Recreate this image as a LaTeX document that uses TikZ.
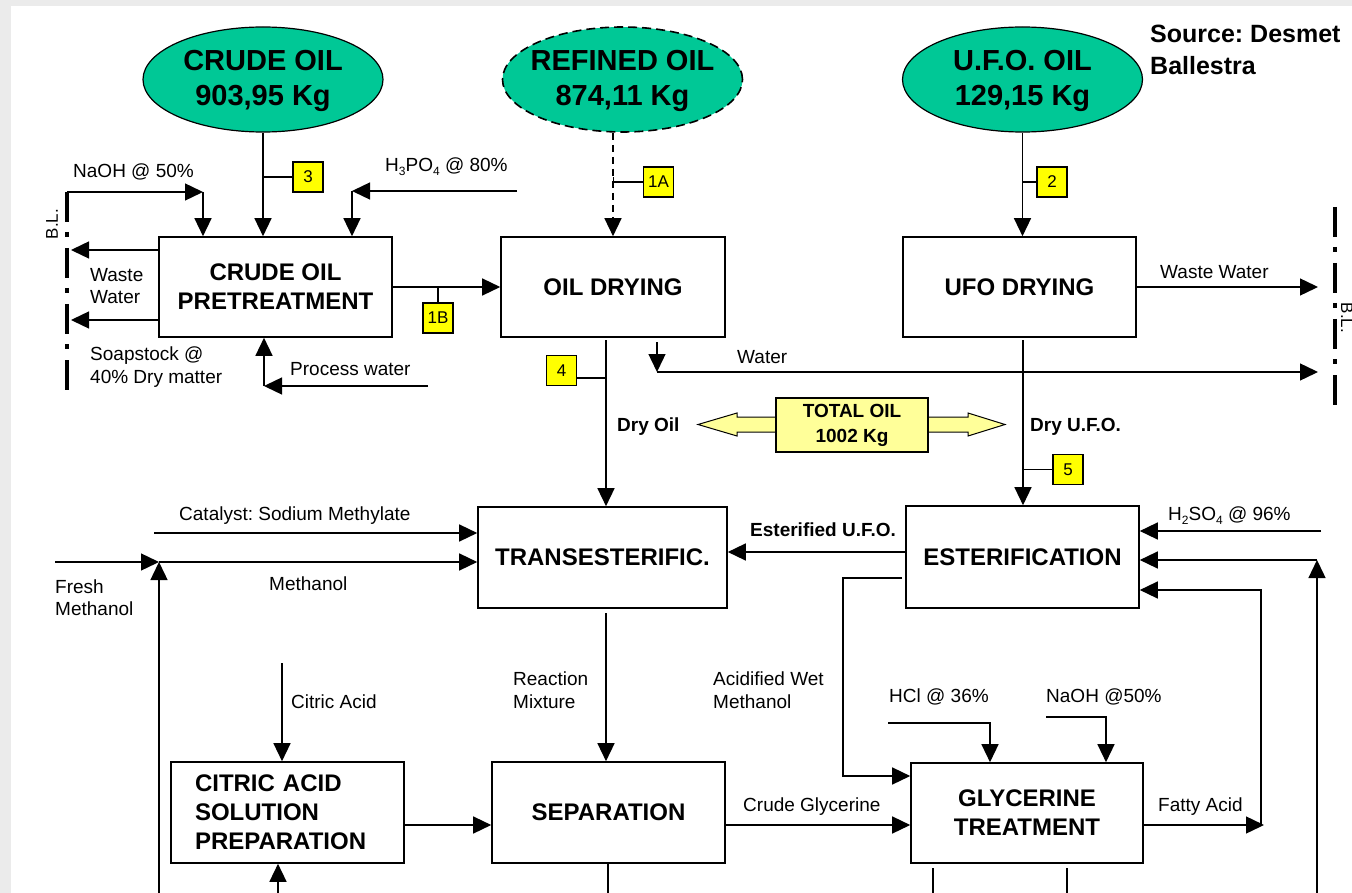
\documentclass[tikz,border=0pt]{standalone}
\usepackage{fontspec}
\setmainfont{Liberation Sans}
\usetikzlibrary{arrows.meta,shapes.geometric,calc}
\definecolor{bggray}{RGB}{235,235,235}
\definecolor{oilgreen}{RGB}{0,200,150}
\definecolor{tagyellow}{RGB}{255,255,0}
\definecolor{paleyellow}{RGB}{255,255,153}
\newcommand\subtxt[1]{\raisebox{-0.35ex}{\fontsize{12}{12}\selectfont #1}}
\frenchspacing
\begin{document}
\begin{tikzpicture}[x=1pt,y=-1pt,
  proc/.style={draw,line width=1.6pt,inner sep=0,align=center,font=\bfseries\fontsize{24}{29}\selectfont},
  flow/.style={line width=1.4pt,-{Triangle[length=18pt,width=17pt]}},
  pipe/.style={line width=1.4pt},
  tag/.style={draw,line width=1.2pt,fill=tagyellow,minimum width=30pt,minimum height=30pt,inner sep=0,font=\fontsize{17}{17}\selectfont},
  lbl/.style={inner sep=0,anchor=north west,align=left,font=\fontsize{19}{22}\selectfont},
  blbl/.style={inner sep=0,anchor=north west,align=left,font=\bfseries\fontsize{19}{22}\selectfont},
  oval/.style={ellipse,draw,line width=1.2pt,fill=oilgreen,minimum width=240pt,minimum height=105pt,inner sep=0},
  ovaltxt/.style={inner sep=0,align=center,font=\bfseries\fontsize{29}{35}\selectfont},
  bline/.style={line width=4pt,dash pattern=on 30pt off 10pt on 5pt off 11pt},
  bltxt/.style={inner sep=0,font=\fontsize{17}{17}\selectfont}]
\useasboundingbox (0,0) rectangle (1352,893);
\clip (0,0) rectangle (1352,893);
\fill[bggray] (0,0) rectangle (1352,893);
\fill[white] (11,6) rectangle (1352,893);

% source
\node[inner sep=0,anchor=north west,align=left,font=\bfseries\fontsize{25}{32}\selectfont] (src) at (1150,25) {Source: Desmet\\Ballestra};

% feed ellipses
\node[oval] (crude) at (263,79.5) {};
\node[ovaltxt] (crudeT) at (263,81) {CRUDE OIL\\903,95 Kg};
\node[oval,dashed,dash pattern=on 9pt off 5pt,line width=1.6pt] (refined) at (622.5,79.5) {};
\node[ovaltxt] (refinedT) at (622.5,81) {REFINED OIL\\874,11 Kg};
\node[oval] (ufo) at (1022.5,79.5) {};
\node[ovaltxt] (ufoT) at (1022.5,81) {U.F.O. OIL\\129,15 Kg};

% process boxes
\node[proc,minimum width=233pt,minimum height=100pt] (pre) at (275.5,287) {CRUDE OIL\\PRETREATMENT};
\node[proc,minimum width=224pt,minimum height=100pt] (dry) at (613,287) {OIL DRYING};
\node[proc,minimum width=233pt,minimum height=100pt] (ufod) at (1019.5,287) {UFO DRYING};
\node[proc,minimum width=249pt,minimum height=101pt] (trans) at (602.5,557.5) {TRANSESTERIFIC.};
\node[proc,minimum width=233pt,minimum height=102pt] (ester) at (1022.5,557) {ESTERIFICATION};
\node[proc,minimum width=233pt,minimum height=101pt,text width=185pt,inner xsep=24pt,align=left] (citric) at (287.5,812.5) {CITRIC ACID\\SOLUTION\\PREPARATION};
\node[proc,minimum width=233pt,minimum height=101pt] (sep) at (608.5,812.5) {SEPARATION};
\node[proc,minimum width=232pt,minimum height=100pt] (gly) at (1027,813) {GLYCERINE\\TREATMENT};

% battery limits
\coordinate (blLtop) at (67,192);
\coordinate (blLbot) at (67,390);
\draw[bline] (blLtop) -- (blLbot);
\node[bltxt,rotate=90] (blLtxt) at (52,224) {B.L.};
\coordinate (blRtop) at (1335,207);
\coordinate (blRbot) at (1335,405);
\draw[bline] (blRtop) -- (blRbot);
\node[bltxt,rotate=-90] (blRtxt) at (1347,318) {B.L.};

% crude oil feed
\draw[flow] (crude.south) -- (crude.south |- pre.north);
\node[tag] (t3) at (308,177) {3};
\draw[pipe] (t3.west) -- (t3.west -| crude.south);

% NaOH
\coordinate (naohC) at (203,192);
\draw[flow] (blLtop) -- (naohC);
\draw[flow] (naohC) -- (naohC |- pre.north);
\node[lbl] (naohT) at (73,164) {NaOH @ 50\%};

% H3PO4
\coordinate (h3S) at (517,191);
\coordinate (h3C) at (352,191);
\draw[flow] (h3S) -- (h3C);
\draw[flow] (h3C) -- (h3C |- pre.north);
\node[lbl] (h3T) at (385,158) {H\subtxt{3}PO\subtxt{4} @ 80\%};

% waste water / soapstock
\draw[flow] (pre.west |- 0,250) -- (71,250);
\draw[flow] (pre.west |- 0,320) -- (71,320);
\node[lbl] (wwT) at (90,268) {Waste\\Water};
\node[lbl,font=\fontsize{19}{23}\selectfont] (soapT) at (90,347) {Soapstock @\\40\% Dry matter};

% process water
\coordinate (pwS) at (428,386);
\coordinate (pwC) at (264,386);
\draw[flow] (pwS) -- (pwC);
\draw[flow] (pwC) -- (pwC |- pre.south);
\node[lbl] (pwT) at (290,362) {Process water};

% pretreatment -> oil drying
\draw[flow] (pre.east) -- (dry.west);
\node[tag] (t1b) at (438,318) {1B};
\draw[pipe] (t1b.north) -- (t1b.north |- pre.east);

% refined oil
\draw[flow,dashed,dash pattern=on 7pt off 5pt] (dry.north |- refined.south) -- (dry.north);
\node[tag] (t1a) at (658.5,182) {1A};
\draw[pipe,{Bar[width=9pt]}-] (dry.north |- t1a.west) -- (t1a.west);

% oil drying -> transesterification
\coordinate (dOtop) at (606,340);
\draw[flow] (dOtop) -- (trans.north -| dOtop);
\node[tag] (t4) at (561.5,370.5) {4};
\draw[pipe] (t4.east |- 0,378) -- (606,378);
\node[blbl] (dryoilT) at (617,418) {Dry Oil};

% water from oil drying
\coordinate (wS) at (657,342);
\coordinate (wC) at (657,372);
\draw[flow] (wS) -- (wC);
\draw[flow] (wC) -- (1318,372);
\node[lbl] (waterT) at (737,350) {Water};

% UFO
\draw[flow] (ufo.south) -- (ufo.south |- ufod.north);
\node[tag] (t2) at (1052,182) {2};
\draw[pipe] (t2.west) -- (t2.west -| ufo.south);
\draw[flow] (ufod.east) -- (1318,287);
\node[lbl] (uwwT) at (1160,265) {Waste Water};

% UFO drying -> esterification
\coordinate (dUtop) at (1023,340);
\draw[flow] (dUtop) -- (ester.north -| dUtop);
\node[tag] (t5) at (1068,469.5) {5};
\draw[pipe] (t5.west) -- (t5.west -| dUtop);
\node[blbl] (dryufoT) at (1030,418) {Dry U.F.O.};

% total oil double arrow
\filldraw[fill=paleyellow,line width=1pt] (776,417) -- (737,417) -- (737,413) -- (698,424.5) -- (737,436) -- (737,432) -- (776,432) -- cycle;
\filldraw[fill=paleyellow,line width=1pt] (928,417) -- (968,417) -- (968,413) -- (1005,424.5) -- (968,436) -- (968,432) -- (928,432) -- cycle;
\node[draw,line width=1.2pt,fill=paleyellow,minimum width=152pt,minimum height=54pt,inner sep=0,align=center,font=\bfseries\fontsize{19}{25}\selectfont] (tot) at (852,425) {TOTAL OIL\\1002 Kg};

% catalyst and methanol
\draw[flow] (154,533) -- (trans.west |- 0,533);
\node[lbl] (catT) at (179,507) {Catalyst: Sodium Methylate};
\coordinate (mj) at (159,562);
\draw[flow] (55,562) -- (mj);
\draw[flow] (159,893) -- (mj);
\draw[flow] (mj) -- (trans.west |- mj);
\node[lbl] (freshT) at (55,580) {Fresh\\Methanol};
\node[lbl] (methT) at (269,577) {Methanol};

% transesterification -> separation
\draw[flow] (606,613) -- (sep.north -| 606,0);
\node[lbl,font=\fontsize{19}{23}\selectfont] (rmT) at (513,672) {Reaction\\Mixture};

% esterified UFO
\draw[flow] (ester.west |- 0,552) -- (trans.east |- 0,552);
\node[blbl] (esT) at (750,523) {Esterified U.F.O.};

% acidified wet methanol
\draw[flow] (902,578) -- (843,578) -- (843,776) -- (gly.west |- 0,776);
\node[lbl,font=\fontsize{19}{23}\selectfont] (awT) at (713,672) {Acidified Wet\\Methanol};

% citric acid
\draw[flow] (282,663) -- (citric.north -| 282,0);
\node[lbl] (caT) at (291,695) {Citric Acid};
\draw[flow] (278,893) -- (citric.south -| 278,0);
\draw[flow] (citric.east |- 0,825) -- (sep.west |- 0,825);

% separation -> glycerine
\draw[flow] (sep.east |- 0,825) -- (gly.west |- 0,825);
\node[lbl] (cgT) at (743,798) {Crude Glycerine};
\draw[pipe] (sep.south -| 608,0) -- (608,893);

% glycerine treatment outputs
\draw[pipe] (933,868) -- (933,893);
\draw[pipe] (1067,868) -- (1067,893);

% HCl and NaOH
\draw[flow] (888,723) -- (990,723) -- (gly.north -| 990,0);
\node[lbl] (hclT) at (889,689) {HCl @ 36\%};
\draw[flow] (1046,717) -- (1106,717) -- (gly.north -| 1106,0);
\node[lbl] (naoh2T) at (1046,689) {NaOH @50\%};

% fatty acid
\draw[flow] (gly.east |- 0,825) -- (1264,825);
\draw[flow] (1261,825) -- (1261,590) -- (ester.east |- 0,590);
\node[lbl] (faT) at (1158,798) {Fatty Acid};

% H2SO4
\draw[flow] (1321,531) -- (ester.east |- 0,531);
\node[lbl] (h2T) at (1168,507) {H\subtxt{2}SO\subtxt{4} @ 96\%};

% methanol recycle to esterification
\coordinate (rl) at (1317,560);
\draw[flow] (1317,893) -- (rl);
\draw[flow] (rl) -- (ester.east |- rl);
\end{tikzpicture}
\end{document}
